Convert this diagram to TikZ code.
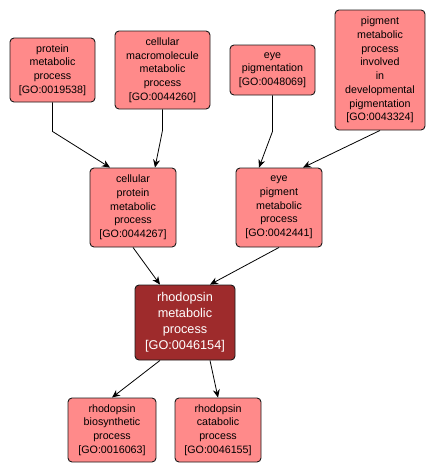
\documentclass[tikz,border=0pt]{standalone}
\usepackage{fontspec}
\setmainfont{Liberation Sans}
\usepackage{xcolor}
\definecolor{termfill}{HTML}{FF8A8A}
\definecolor{focusfill}{HTML}{9E2B2C}
\definecolor{ink}{HTML}{1A1A1A}
\usetikzlibrary{arrows.meta}
\tikzset{
  term/.style={draw=ink, line width=0.9pt, rounded corners=4pt, fill=termfill, align=center,
    inner sep=0pt, font=\fontsize{10.7}{13.7}\selectfont},
  focus/.style={term, fill=focusfill, text=white, font=\fontsize{12.7}{16}\selectfont},
  edge/.style={-{Stealth[length=8pt,width=7pt]}, black, line width=0.8pt},
}
\begin{document}
\begin{tikzpicture}[x=1pt, y=-1pt]
  \useasboundingbox (0,0) rectangle (436,475);
  % top row
  \node[term, minimum width=85pt, minimum height=64pt] (pmp) at (52.5,70) {protein\\metabolic\\process\\{[GO:0019538]}};
  \node[term, minimum width=95pt, minimum height=78pt] (cmmp) at (162.5,70) {cellular\\macromolecule\\metabolic\\process\\{[GO:0044260]}};
  \node[term, minimum width=85pt, minimum height=50pt] (eyepig) at (272.5,70) {eye\\pigmentation\\{[GO:0048069]}};
  \node[term, minimum width=90pt, minimum height=120pt] (pmpdev) at (380,70) {pigment\\metabolic\\process\\involved\\in\\developmental\\pigmentation\\{[GO:0043324]}};
  % middle row
  \node[term, minimum width=86pt, minimum height=79pt] (cpmp) at (133,207.5) {cellular\\protein\\metabolic\\process\\{[GO:0044267]}};
  \node[term, minimum width=86pt, minimum height=79pt] (epmp) at (279,207.5) {eye\\pigment\\metabolic\\process\\{[GO:0042441]}};
  % focus term
  \node[focus, minimum width=100pt, minimum height=75pt] (rmp) at (185,322.5) {rhodopsin\\metabolic\\process\\{[GO:0046154]}};
  % bottom row
  \node[term, minimum width=88pt, minimum height=64pt] (rbp) at (112,430) {rhodopsin\\biosynthetic\\process\\{[GO:0016063]}};
  \node[term, minimum width=86pt, minimum height=64pt] (rcp) at (218,430) {rhodopsin\\catabolic\\process\\{[GO:0046155]}};
  \draw[edge] (pmp.south) -- ++(0,29) -- ([xshift=-23pt]cpmp.north);
  \draw[edge] (cmmp.south) -- ++(0,21) -- ([xshift=22pt]cpmp.north);
  \draw[edge] (eyepig.south) -- ++(0,36) -- ([xshift=-20pt]epmp.north);
  \draw[edge] (pmpdev.south) -- ([xshift=24pt]epmp.north);
  \draw[edge] (cpmp.south) -- ([xshift=-25pt]rmp.north);
  \draw[edge] (epmp.south) -- ([xshift=25pt]rmp.north);
  \draw[edge] ([xshift=-25pt]rmp.south) -- (rbp.north);
  \draw[edge] ([xshift=25pt]rmp.south) -- (rcp.north);
\end{tikzpicture}
\end{document}
